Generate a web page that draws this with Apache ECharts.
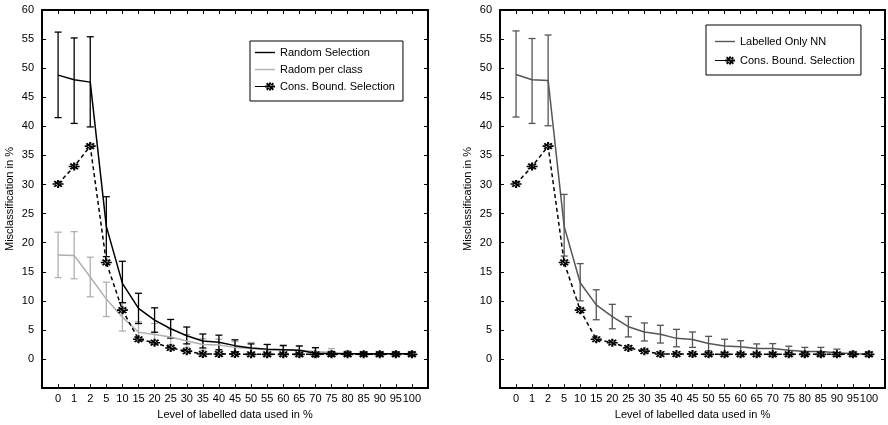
<!DOCTYPE html>
<html>
<head>
<meta charset="utf-8">
<script src="https://cdn.jsdelivr.net/npm/echarts@6/dist/echarts.min.js"></script>
<style>
  html, body { margin: 0; padding: 0; background: #fff; }
  #main { width: 888px; height: 425px; }
</style>
</head>
<body>
<div id="main"></div>
<script>
// x categories (level of labelled data, %)
var xLabels = ['0','1','2','5','10','15','20','25','30','35','40','45','50','55','60','65','70','75','80','85','90','95','100'];

// left panel
var randMean = [48.8,48.0,47.6,22.8,13.0,8.7,6.7,5.2,4.0,3.1,2.9,2.3,1.9,1.7,1.6,1.5,1.0,0.9,0.9,0.9,0.9,0.9,0.9];
var randLow  = [41.5,40.5,39.9,17.6,9.7,6.1,4.6,3.6,2.6,1.9,1.6,1.2,0.9,0.9,0.8,0.8,0.4,0.5,0.6,0.6,0.6,0.6,0.6];
var randHigh = [56.2,55.2,55.4,27.9,16.8,11.3,8.8,6.8,5.5,4.3,4.1,3.3,2.6,2.5,2.3,2.25,1.95,1.3,1.2,1.2,1.2,1.2,1.2];

var classMean = [17.9,17.8,14.1,10.3,7.2,4.6,4.2,3.8,3.1,2.5,2.4,2.0,1.8,1.6,1.6,1.5,1.3,1.1,0.95,0.9,0.9,0.9,0.9];
var classLow  = [14.0,13.8,10.7,7.3,4.8,3.1,2.6,2.5,2.0,1.5,1.4,1.2,0.8,0.7,0.7,0.7,0.6,0.5,0.5,0.5,0.5,0.5,0.5];
var classHigh = [21.8,21.9,17.5,13.2,9.6,6.4,6.1,5.1,4.2,3.5,3.4,3.0,2.85,2.5,2.45,2.2,1.95,1.8,1.4,1.3,1.3,1.3,1.3];

var consMean = [30.1,33.1,36.6,16.6,8.4,3.4,2.8,1.9,1.35,0.85,0.85,0.85,0.8,0.8,0.8,0.8,0.8,0.8,0.8,0.8,0.8,0.8,0.8];

// right panel
var nnMean = [48.9,48.0,47.9,22.8,13.1,9.3,7.3,5.55,4.65,4.25,3.55,3.35,2.65,2.25,2.1,1.8,1.8,1.5,1.3,1.3,1.07,0.9,0.85];
var nnLow  = [41.6,40.5,40.1,17.7,10.0,6.75,5.2,3.8,3.1,2.75,2.1,2.0,1.4,1.1,1.0,1.0,0.95,0.8,0.6,0.6,0.45,0.5,0.45];
var nnHigh = [56.4,55.1,55.7,28.3,16.4,11.9,9.4,7.3,6.2,5.8,5.1,4.65,3.9,3.4,3.15,2.6,2.65,2.2,2.0,2.0,1.7,1.3,1.25];

var font = 'Liberation Sans, Arial, sans-serif';
// asterisk marker
var star = 'path://M0,4h10v2h-10z M4,0h2v10h-2z M0.8,2.2l1.4,-1.4l7,7l-1.4,1.4z M9.2,2.2l-1.4,-1.4l-7,7l1.4,1.4z';
var lineIcon = 'path://M0,0h20v1.4h-20z';
var starIcon = 'path://M0,4.4h20v1.2h-20z M10,4h10v2h-10z M14,1h2v8h-2z M11,2.4l1.4,-1.4l6.6,6.6l-1.4,1.4z M19,2.4l-1.4,-1.4l-6.6,6.6l1.4,1.4z';

function pairs(arr) {
  return arr.map(function (v, i) { return [i, v]; });
}
function bars(lo, hi) {
  return lo.map(function (v, i) { return [i, v, hi[i]]; });
}

function errorBar(color) {
  return function (params, api) {
    var x = api.value(0);
    var p1 = api.coord([x, api.value(1)]);
    var p2 = api.coord([x, api.value(2)]);
    var w = 3.5;
    var st = { stroke: color, lineWidth: 1.3 };
    return {
      type: 'group',
      children: [
        { type: 'line', shape: { x1: p1[0], y1: p1[1], x2: p2[0], y2: p2[1] }, style: st },
        { type: 'line', shape: { x1: p1[0] - w, y1: p1[1], x2: p1[0] + w, y2: p1[1] }, style: st },
        { type: 'line', shape: { x1: p2[0] - w, y1: p2[1], x2: p2[0] + w, y2: p2[1] }, style: st }
      ]
    };
  };
}

function xAx(grid, pos, show) {
  return {
    type: 'value', gridIndex: grid, position: pos,
    min: -1, max: 23, interval: 1,
    name: show ? 'Level of labelled data used in %' : '',
    nameLocation: 'middle', nameGap: 20,
    nameTextStyle: { fontFamily: font, fontSize: 11, color: '#000' },
    axisLine: { show: true, onZero: false, lineStyle: { color: '#000', width: 2 } },
    axisTick: { inside: true, length: 4, lineStyle: { color: '#000', width: 1 } },
    axisLabel: {
      show: show, margin: 5, fontFamily: font, fontSize: 11, color: '#000',
      formatter: function (v) { return xLabels[v] || ''; }
    },
    splitLine: { show: false }
  };
}
function yAx(grid, pos, show) {
  return {
    type: 'value', gridIndex: grid, position: pos,
    min: -5, max: 60, interval: 5,
    name: show ? 'Misclassification in %' : '',
    nameLocation: 'middle', nameGap: 27, nameRotate: 90,
    nameTextStyle: { fontFamily: font, fontSize: 11, color: '#000' },
    axisLine: { show: true, onZero: false, lineStyle: { color: '#000', width: 2 } },
    axisTick: { inside: true, length: 4, lineStyle: { color: '#000', width: 1 } },
    axisLabel: {
      show: show, margin: 8, fontFamily: font, fontSize: 11, color: '#000',
      formatter: function (v) { return v < 0 ? '' : v; }
    },
    splitLine: { show: false }
  };
}

var chart = echarts.init(document.getElementById('main'));

var option = {
  animation: false,
  backgroundColor: '#fff',
  grid: [
    { left: 42, top: 10, width: 386, height: 384 },
    { left: 500, top: 10, width: 386, height: 384 }
  ],
  xAxis: [xAx(0, 'bottom', true), xAx(0, 'top', false), xAx(1, 'bottom', true), xAx(1, 'top', false)],
  yAxis: [yAx(0, 'left', true), yAx(0, 'right', false), yAx(1, 'left', true), yAx(1, 'right', false)],
  legend: [
    {
      left: 250, top: 41, orient: 'vertical',
      data: [
        { name: 'Random Selection', icon: lineIcon },
        { name: 'Radom per class', icon: lineIcon },
        { name: 'Cons. Bound. Selection', icon: starIcon }
      ],
      itemWidth: 20, itemHeight: 10, itemGap: 6,
      padding: [6, 8, 9, 5],
      borderColor: '#000', borderWidth: 1, borderRadius: 0,
      textStyle: { fontFamily: font, fontSize: 11, color: '#000' }
    },
    {
      left: 706, top: 25, orient: 'vertical',
      data: [
        { name: 'Labelled Only NN', icon: lineIcon },
        { name: 'Cons. Bound. Selection', icon: starIcon }
      ],
      itemWidth: 20, itemHeight: 10, itemGap: 8,
      padding: [11, 6, 9, 9],
      borderColor: '#000', borderWidth: 1, borderRadius: 0,
      textStyle: { fontFamily: font, fontSize: 11, color: '#000' }
    }
  ],
  series: [
    {
      name: 'errRandom', type: 'custom', xAxisIndex: 0, yAxisIndex: 0,
      renderItem: errorBar('#000'), data: bars(randLow, randHigh), encode: { x: 0, y: [1, 2] }, z: 3
    },
    {
      name: 'errClass', type: 'custom', xAxisIndex: 0, yAxisIndex: 0,
      renderItem: errorBar('#b0b0b0'), data: bars(classLow, classHigh), encode: { x: 0, y: [1, 2] }, z: 2
    },
    {
      name: 'Random Selection', type: 'line', xAxisIndex: 0, yAxisIndex: 0,
      data: pairs(randMean), showSymbol: false, symbol: 'none',
      lineStyle: { color: '#000', width: 1.5 }, itemStyle: { color: '#000' }, z: 4
    },
    {
      name: 'Radom per class', type: 'line', xAxisIndex: 0, yAxisIndex: 0,
      data: pairs(classMean), showSymbol: false, symbol: 'none',
      lineStyle: { color: '#b0b0b0', width: 1.5 }, itemStyle: { color: '#b0b0b0' }, z: 3
    },
    {
      name: 'Cons. Bound. Selection', type: 'line', xAxisIndex: 0, yAxisIndex: 0,
      data: pairs(consMean), symbol: star, symbolSize: [11, 8],
      lineStyle: { color: '#000', width: 1.5, type: [4, 3] }, itemStyle: { color: '#000' }, z: 5
    },
    {
      name: 'errNN', type: 'custom', xAxisIndex: 2, yAxisIndex: 2,
      renderItem: errorBar('#555'), data: bars(nnLow, nnHigh), encode: { x: 0, y: [1, 2] }, z: 3
    },
    {
      name: 'Labelled Only NN', type: 'line', xAxisIndex: 2, yAxisIndex: 2,
      data: pairs(nnMean), showSymbol: false, symbol: 'none',
      lineStyle: { color: '#555', width: 1.5 }, itemStyle: { color: '#555' }, z: 4
    },
    {
      name: 'Cons. Bound. Selection', type: 'line', xAxisIndex: 2, yAxisIndex: 2,
      data: pairs(consMean), symbol: star, symbolSize: [11, 8],
      lineStyle: { color: '#000', width: 1.5, type: [4, 3] }, itemStyle: { color: '#000' }, z: 5
    }
  ]
};

chart.setOption(option);
</script>
</body>
</html>
